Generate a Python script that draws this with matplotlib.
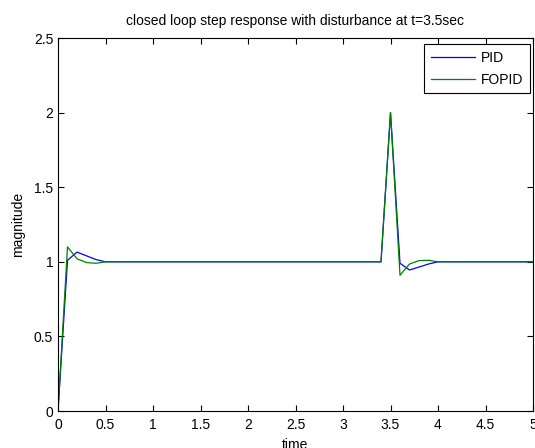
import matplotlib
matplotlib.use("Agg")
import matplotlib.pyplot as plt

plt.rcParams["font.family"] = ["Liberation Sans", "DejaVu Sans"]

# sample times (s)
time = [
    0.0, 0.1, 0.2, 0.3, 0.4, 0.5, 0.6, 0.7, 0.8, 0.9,
    1.0, 1.1, 1.2, 1.3, 1.4, 1.5, 1.6, 1.7, 1.8, 1.9,
    2.0, 2.1, 2.2, 2.3, 2.4, 2.5, 2.6, 2.7, 2.8, 2.9,
    3.0, 3.1, 3.2, 3.3, 3.4, 3.5, 3.6, 3.7, 3.8, 3.9,
    4.0, 4.1, 4.2, 4.3, 4.4, 4.5, 4.6, 4.7, 4.8, 4.9,
    5.0,
]
pid = [
    0.0, 1.01, 1.065, 1.04, 1.015, 1.0, 1.0, 1.0, 1.0, 1.0,
    1.0, 1.0, 1.0, 1.0, 1.0, 1.0, 1.0, 1.0, 1.0, 1.0,
    1.0, 1.0, 1.0, 1.0, 1.0, 1.0, 1.0, 1.0, 1.0, 1.0,
    1.0, 1.0, 1.0, 1.0, 1.0, 2.0, 0.99, 0.945, 0.965, 0.985,
    1.0, 1.0, 1.0, 1.0, 1.0, 1.0, 1.0, 1.0, 1.0, 1.0,
    1.0,
]
fopid = [
    0.0, 1.1, 1.02, 0.995, 0.99, 1.0, 1.0, 1.0, 1.0, 1.0,
    1.0, 1.0, 1.0, 1.0, 1.0, 1.0, 1.0, 1.0, 1.0, 1.0,
    1.0, 1.0, 1.0, 1.0, 1.0, 1.0, 1.0, 1.0, 1.0, 1.0,
    1.0, 1.0, 1.0, 1.0, 1.0, 2.0, 0.91, 0.985, 1.008, 1.01,
    1.0, 1.0, 1.0, 1.0, 1.0, 1.0, 1.0, 1.0, 1.0, 1.0,
    1.0,
]
xticks = [0, 0.5, 1, 1.5, 2, 2.5, 3, 3.5, 4, 4.5, 5]
yticks = [0, 0.5, 1, 1.5, 2, 2.5]

W, H = 535, 448
fig = plt.figure(figsize=(W / 100, H / 100), dpi=100)
ax = fig.add_axes([58 / W, 1 - 411 / H, (533 - 58) / W, (411 - 38) / H])

ax.plot(time, pid, color="#0000ff", linewidth=0.9, label="PID")
ax.plot(time, fopid, color="#008000", linewidth=0.9, label="FOPID")

ax.set_xlim(0, 5)
ax.set_ylim(0, 2.5)
ax.set_xticks(xticks)
ax.set_xticklabels([f"{v:g}" for v in xticks])
ax.set_yticks(yticks)
ax.set_yticklabels([f"{v:g}" for v in yticks])
ax.tick_params(direction="in", top=True, right=True, labelsize=10, length=4, width=0.8)
ax.tick_params(axis="x", pad=5)
for s in ax.spines.values():
    s.set_linewidth(0.8)

ax.set_title("closed loop step response with disturbance at t=3.5sec", fontsize=10, pad=9)
ax.set_xlabel("time", fontsize=10, labelpad=4)
ax.set_ylabel("magnitude", fontsize=10, labelpad=6)

leg = ax.legend(loc="upper right", bbox_to_anchor=(0.9937, 0.984), borderaxespad=0,
                fontsize=10, fancybox=False, framealpha=1, edgecolor="black",
                handlelength=3.2, handletextpad=0.4, labelspacing=0.55, borderpad=0.5)
leg.get_frame().set_linewidth(0.8)

fig.savefig("out.png", dpi=100)
